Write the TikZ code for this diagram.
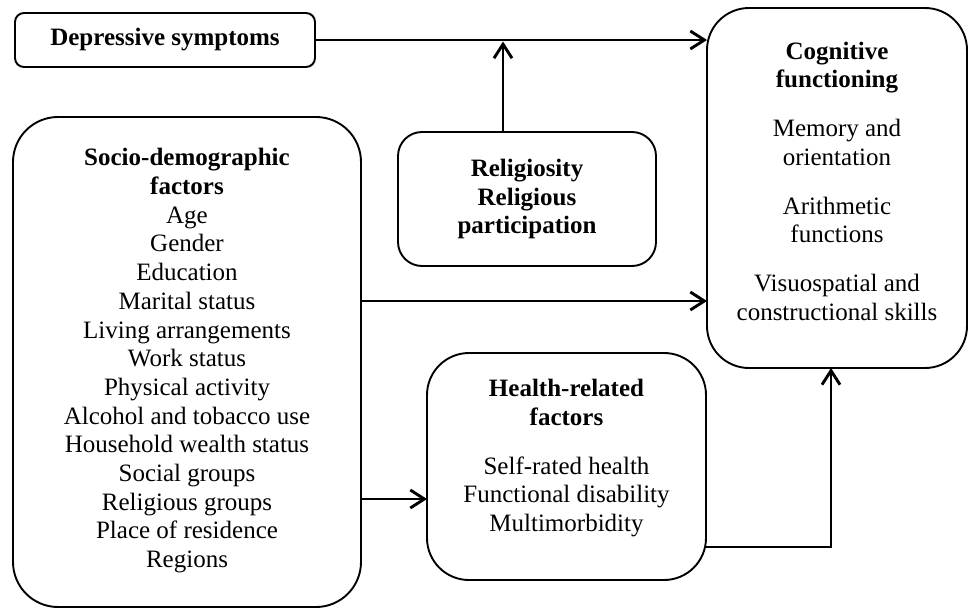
\documentclass[tikz,border=0pt]{standalone}
\usepackage{fontspec}
\setmainfont{Liberation Serif}
\usetikzlibrary{arrows.meta}
\begin{document}
\begin{tikzpicture}[x=1pt,y=-1pt,
  box/.style={draw,line width=1.9pt,rectangle,inner sep=0pt,outer sep=0pt},
  txt/.style={align=center,inner sep=0pt,font=\fontsize{25}{28.7}\selectfont},
  arr/.style={line width=2.9pt,-{Straight Barb[length=14pt,width=18pt]}}]
\useasboundingbox (0,0) rectangle (969,608);
% boxes
\node[box,rounded corners=9pt,minimum width=300pt,minimum height=54pt] (dep) at (165,40) {};
\node[box,rounded corners=42pt,minimum width=260pt,minimum height=360pt] (cog) at (837,188) {};
\node[box,rounded corners=24pt,minimum width=258pt,minimum height=134pt] (rel) at (527,199) {};
\node[box,rounded corners=45pt,minimum width=348pt,minimum height=490pt] (soc) at (187,362) {};
\node[box,rounded corners=42pt,minimum width=279pt,minimum height=227pt] (hea) at (566.5,466.5) {};
% texts
\node[txt] (deptxt) at (165,40) {\strut\bfseries Depressive symptoms};
\node[txt] (cogtxt) at (837,184) {\strut\bfseries Cognitive\\\strut\bfseries functioning\\[20pt]
  \strut Memory and\\\strut orientation\\[20pt]
  \strut Arithmetic\\\strut functions\\[20pt]
  \strut Visuospatial and\\\strut constructional skills};
\node[txt] (reltxt) at (527,199.5) {\strut\bfseries Religiosity\\\strut\bfseries Religious\\\strut\bfseries participation};
\node[txt] (soctxt) at (187,361) {\strut\bfseries Socio-demographic\\\strut\bfseries factors\\
  \strut Age\\\strut Gender\\\strut Education\\\strut Marital status\\\strut Living arrangements\\
  \strut Work status\\\strut Physical activity\\\strut Alcohol and tobacco use\\
  \strut Household wealth status\\\strut Social groups\\\strut Religious groups\\
  \strut Place of residence\\\strut Regions};
\node[txt] (heatxt) at (566.5,458.5) {\strut\bfseries Health-related\\\strut\bfseries factors\\[20pt]
  \strut Self-rated health\\\strut Functional disability\\\strut Multimorbidity};
% helper coordinates
\coordinate (rhit) at (503,41.5);
\coordinate (ya) at (0,301);
\coordinate (yb) at (0,499);
\coordinate (yc) at (0,547);
\coordinate (xc) at (831,0);
% connectors
\draw[arr] (dep.east) -- (dep.east -| cog.west);
\draw[arr] (rel.north -| rhit) -- (rhit);
\draw[arr] (soc.east |- ya) -- (cog.west |- ya);
\draw[arr] (soc.east |- yb) -- (hea.west |- yb);
\draw[arr] (hea.east |- yc) -| (cog.south -| xc);
\end{tikzpicture}
\end{document}
